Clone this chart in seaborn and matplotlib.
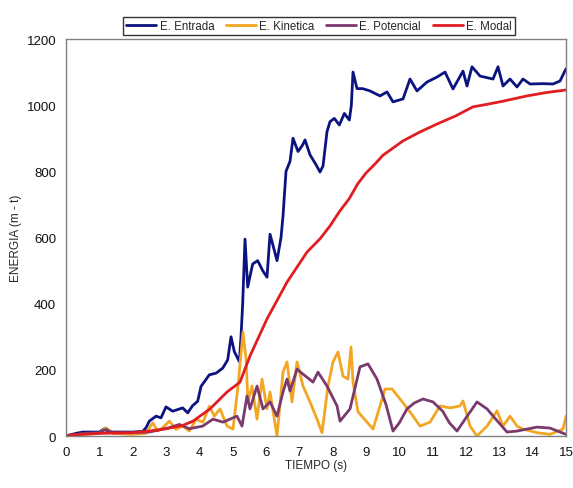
import matplotlib
matplotlib.use('Agg')
import matplotlib.pyplot as plt
import seaborn as sns
import numpy as np

# E. Entrada (input energy)
t_ent = [0, 0.3, 0.5, 1.0, 1.15, 1.25, 1.4, 2.0, 2.3, 2.4,
         2.5, 2.7, 2.85, 3.0, 3.2, 3.5, 3.65, 3.8, 3.95, 4.05,
         4.3, 4.5, 4.7, 4.85, 4.95, 5.05, 5.2, 5.25, 5.3, 5.37,
         5.45, 5.6, 5.75, 5.9, 6.03, 6.12, 6.2, 6.33, 6.45, 6.51,
         6.6, 6.72, 6.81, 6.96, 7.1, 7.17, 7.32, 7.5, 7.62, 7.71,
         7.83, 7.92, 8.05, 8.2, 8.35, 8.5, 8.56, 8.61, 8.73, 8.9,
         9.12, 9.42, 9.63, 9.81, 10.11, 10.32, 10.53, 10.83, 11.13, 11.37,
         11.61, 11.91, 12.03, 12.18, 12.42, 12.81, 12.96, 13.11, 13.32, 13.53,
         13.71, 13.92, 14.3, 14.61, 14.82, 15.0]
v_ent = [0, 8, 12, 12, 22, 15, 12, 12, 14, 25,
         45, 60, 55, 88, 75, 85, 70, 92, 105, 150,
         185, 190, 205, 230, 300, 255, 225, 300, 400, 595,
         450, 520, 530, 500, 480, 610, 580, 530, 600, 665,
         800, 830, 900, 860, 880, 895, 850, 820, 798, 816,
         920, 950, 960, 940, 975, 955, 1000, 1100, 1050, 1050,
         1043, 1028, 1040, 1010, 1019, 1079, 1043, 1070, 1085, 1100,
         1049, 1103, 1058, 1116, 1088, 1079, 1116, 1058, 1079, 1055,
         1079, 1064, 1065, 1064, 1073, 1110]

# E. Kinetica
t_kin = [0, 0.5, 1.0, 1.2, 1.4, 2.0, 2.4, 2.6, 2.75, 2.9,
         3.1, 3.3, 3.5, 3.7, 3.9, 4.11, 4.3, 4.45, 4.62, 4.83,
         5.01, 5.16, 5.31, 5.40, 5.46, 5.58, 5.73, 5.88, 6.03, 6.12,
         6.33, 6.51, 6.63, 6.78, 6.93, 7.11, 7.32, 7.53, 7.68, 7.86,
         8.01, 8.16, 8.31, 8.46, 8.55, 8.61, 8.76, 9.03, 9.21, 9.42,
         9.57, 9.78, 10.02, 10.32, 10.62, 10.92, 11.22, 11.52, 11.82, 11.91,
         12.12, 12.33, 12.63, 12.93, 13.11, 13.32, 13.53, 13.71, 14.13, 14.52,
         14.91, 15.0]
v_kin = [0, 5, 8, 25, 8, 5, 8, 40, 15, 25,
         45, 20, 30, 15, 50, 42, 90, 60, 82, 30,
         21, 151, 314, 233, 103, 151, 51, 172, 82, 133,
         0, 193, 224, 103, 224, 151, 103, 51, 10, 151,
         224, 254, 181, 172, 269, 163, 73, 42, 21, 91,
         142, 142, 112, 73, 30, 42, 91, 85, 91, 106,
         30, 0, 30, 76, 30, 60, 30, 21, 10, 5,
         21, 60]

# E. Potencial
t_pot = [0, 0.5, 1.0, 1.2, 1.4, 2.0, 2.5, 3.1, 3.4, 3.7,
         4.1, 4.41, 4.71, 5.13, 5.28, 5.43, 5.52, 5.73, 5.91, 6.12,
         6.33, 6.51, 6.63, 6.72, 6.93, 7.11, 7.41, 7.56, 7.83, 8.13,
         8.22, 8.52, 8.82, 9.06, 9.33, 9.6, 9.81, 10.0, 10.23, 10.45,
         10.71, 11.01, 11.3, 11.5, 11.73, 12.0, 12.33, 12.63, 12.9, 13.23,
         13.53, 14.13, 14.52, 15.0]
v_pot = [0, 8, 10, 20, 10, 10, 12, 25, 35, 22,
         30, 51, 42, 60, 30, 121, 82, 151, 82, 103,
         60, 133, 172, 136, 202, 187, 163, 193, 151, 91,
         45, 82, 209, 218, 172, 95, 15, 40, 82, 100,
         112, 103, 75, 40, 15, 55, 103, 82, 50, 12,
         15, 27, 24, 5]

# E. Modal
t_mod = [0, 1, 2, 2.5, 3.0, 3.5, 3.81, 4.32, 4.83, 5.22,
         5.52, 6.03, 6.63, 7.23, 7.62, 7.92, 8.2, 8.5, 8.75, 9.0,
         9.25, 9.5, 10.11, 10.6, 11.13, 11.7, 12.21, 12.6, 13.11, 13.83,
         14.4, 15.0]
v_mod = [2, 8, 10, 15, 22, 32, 45, 82, 133, 163,
         242, 354, 465, 556, 596, 635, 678, 718, 762, 795,
         820, 848, 892, 918, 943, 968, 995, 1002, 1012, 1028,
         1038, 1046]

series = [
    ('E. Entrada', t_ent, v_ent, '#0B1380'),
    ('E. Kinetica', t_kin, v_kin, '#F2A623'),
    ('E. Potencial', t_pot, v_pot, '#7A3A6E'),
    ('E. Modal', t_mod, v_mod, '#E01E22'),
]

sns.set_style('white')
plt.rcParams['font.family'] = ['Liberation Sans', 'DejaVu Sans']

fig = plt.figure(figsize=(5.73, 4.89), dpi=100)
ax = fig.add_axes([0.1152, 0.1063, 0.8726, 0.8119])

for name, t, v, col in series:
    assert len(t) == len(v), name
    sns.lineplot(x=np.array(t), y=np.array(v), ax=ax, color=col, linewidth=2, label=name)

ax.set_xlim(0, 15)
ax.set_ylim(0, 1200)
ax.set_xticks(range(0, 16))
ax.set_yticks(range(0, 1201, 200))
ax.tick_params(axis='both', direction='out', length=4, width=1, color='#808080',
               labelsize=9.5, labelcolor='#111111', pad=3)
for sp in ax.spines.values():
    sp.set_color('#808080')
    sp.set_linewidth(1)
    sp.set_visible(True)

ax.set_xlabel('TIEMPO (s)', fontsize=8.5, labelpad=1)
ax.set_ylabel('ENERGIA (m - t)', fontsize=8.5, labelpad=3)

leg = ax.legend(loc='lower center', bbox_to_anchor=(0.506, 1.01), ncol=4, fontsize=8.3,
                frameon=True, fancybox=False, edgecolor='black', handlelength=2.6,
                handletextpad=0.3, columnspacing=1.0, borderpad=0.25, borderaxespad=0)
leg.get_frame().set_linewidth(1)

fig.savefig('out.png', dpi=100)
